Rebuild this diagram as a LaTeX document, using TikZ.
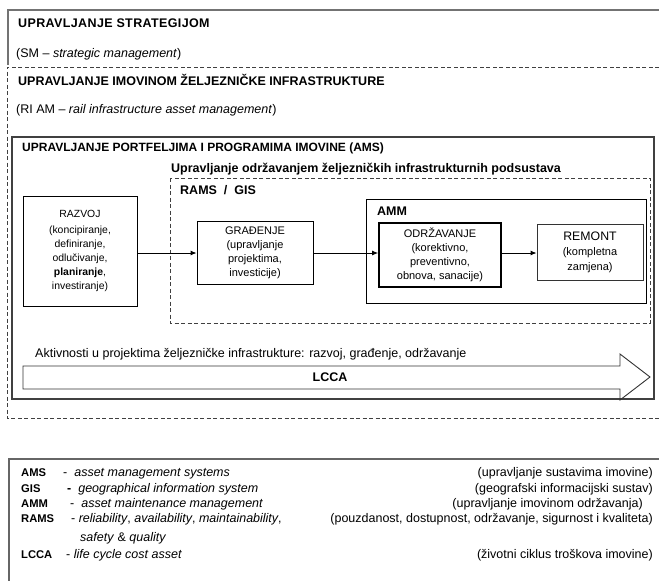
\documentclass[tikz,border=0pt]{standalone}
\usepackage{fontspec}
\setmainfont{Liberation Sans}
\usetikzlibrary{arrows.meta}

\tikzset{
  headtext/.style={anchor=base west, inner sep=0pt, font=\fontsize{12.5}{15}\selectfont},
  headbold/.style={headtext, font=\bfseries\fontsize{12.5}{15}\selectfont},
  procbox/.style={draw, line width=0.9pt, align=center, inner sep=0pt, font=\fontsize{11}{14}\selectfont},
  flow/.style={-{Latex[length=6pt,width=5pt]}, line width=0.9pt},
  framedashed/.style={draw=black!75, line width=0.8pt, dash pattern=on 4pt off 2.5pt},
  legtext/.style={anchor=base west, inner sep=0pt, font=\fontsize{12.5}{15}\selectfont},
  legkey/.style={legtext, font=\bfseries\fontsize{11.2}{15}\selectfont},
  legright/.style={anchor=base east, inner sep=0pt, font=\fontsize{12.5}{15}\selectfont}
}

\begin{document}
\begin{tikzpicture}[x=1pt,y=-1pt]
\useasboundingbox (0,0) rectangle (659,581);

% SM frame
\draw[black!55, line width=1.5pt] (8,65) -- (8,10) -- (659,10) ;
\node[headbold, font=\bfseries\fontsize{12.5}{15}\selectfont\addfontfeature{LetterSpace=3}] (smtitle) at (18,27.5) {UPRAVLJANJE STRATEGIJOM};
\node[headtext] (smsub) at (16,57) {(SM – \textit{strategic management})};

% RI AM frame
\draw[framedashed] (659,67) -- (7,67) -- (7,418) -- (659,418) ;
\node[headbold] (ramtitle) at (18,85.5) {UPRAVLJANJE IMOVINOM ŽELJEZNIČKE INFRASTRUKTURE};
\node[headtext] (ramsub) at (16,113) {(RI AM – \textit{rail infrastructure asset management})};

% AMS frame
\draw[black!75, line width=1.2pt] (12,137) rectangle (654,399) ;
\node[headbold, font=\bfseries\fontsize{12}{15}\selectfont] (amstitle) at (22,151.5) {UPRAVLJANJE PORTFELJIMA I PROGRAMIMA IMOVINE (AMS)};
\node[headbold] (podsustavi) at (171,172.5) {Upravljanje održavanjem željezničkih infrastrukturnih podsustava};

% RAMS / GIS frame
\draw[framedashed] (170,178) rectangle (650,323) ;
\node[headbold] (ramsgis) at (180,194.5) {RAMS \ / \ GIS};

% AMM frame
\draw[line width=0.9pt] (366,199) rectangle (646,303) ;
\node[headbold] (ammtitle) at (377,215.5) {AMM};

% process boxes
\node[procbox, minimum width=114pt, minimum height=110pt, font=\fontsize{10.4}{14}\selectfont] (razvoj) at (80,251)
  {RAZVOJ\\[2pt](koncipiranje,\\definiranje,\\odlučivanje,\\\textbf{planiranje},\\investiranje)};
\node[procbox, minimum width=116pt, minimum height=63pt] (gradjenje) at (255,253)
  {GRAĐENJE\\(upravljanje\\projektima,\\investicije)};
\node[procbox, line width=1.7pt, minimum width=122pt, minimum height=64pt] (odrzavanje) at (440,255)
  {ODRŽAVANJE\\(korektivno,\\preventivno,\\obnova, sanacije)};
\node[procbox, draw=black!80, minimum width=106pt, minimum height=56pt, font=\fontsize{11}{15}\selectfont] (remont) at (590,252)
  {{\fontsize{12.3}{15}\selectfont REMONT}\\(kompletna\\zamjena)};

\draw[flow] (razvoj.east |- gradjenje.east) -- (gradjenje.west) ;
\draw[flow] (gradjenje.east) -- (odrzavanje.west |- gradjenje.east) ;
\draw[flow] (odrzavanje.east |- gradjenje.east) -- (remont.west |- gradjenje.east) ;

% LCCA arrow
\node[headtext] (aktivnosti) at (35,357) {Aktivnosti u projektima željezničke infrastrukture: razvoj, građenje, održavanje};
\draw[black!80, line width=0.9pt] (23,366) -- (620,366) -- (620,354) -- (650,377) -- (620,400) -- (620,389) -- (23,389) -- cycle ;
\node[inner sep=0pt, font=\bfseries\fontsize{12.5}{15}\selectfont] (lcca) at (330,377) {LCCA};

% legend
\draw[black!60, line width=1.3pt] (9,581) -- (9,459) -- (659,459) ;
\node[legkey] (kams) at (21,476.5) {AMS};
\node[legkey] (kgis) at (21,492.5) {GIS};
\node[legkey] (kamm) at (21,507.5) {AMM};
\node[legkey] (krams) at (21,522.5) {RAMS};
\node[legkey] (klcca) at (21,558.5) {LCCA};

\node[legtext] (dams) at (63,476.5) {-\ \ \textit{asset management systems}};
\node[legtext] (dgis) at (67,492.5) {\textbf{-}\ \ \textit{geographical information system}};
\node[legtext] (damm) at (70,507.5) {-\ \ \textit{asset maintenance management}};
\node[legtext] (drams) at (71,522.5) {- \textit{reliability}, \textit{availability}, \textit{maintainability},};
\node[legtext] (drams2) at (80,541.5) {\textit{safety} \& \textit{quality}};
\node[legtext] (dlcca) at (66,558.5) {- \textit{life cycle cost asset}};

\node[legright] (hams) at (653,476.5) {(upravljanje sustavima imovine)};
\node[legright] (hgis) at (653,492.5) {(geografski informacijski sustav)};
\node[legright] (hamm) at (643,507.5) {(upravljanje imovinom održavanja)};
\node[legright] (hrams) at (653,522.5) {(pouzdanost, dostupnost, održavanje, sigurnost i kvaliteta)};
\node[legright] (hlcca) at (653,558.5) {(životni ciklus troškova imovine)};

\end{tikzpicture}
\end{document}
